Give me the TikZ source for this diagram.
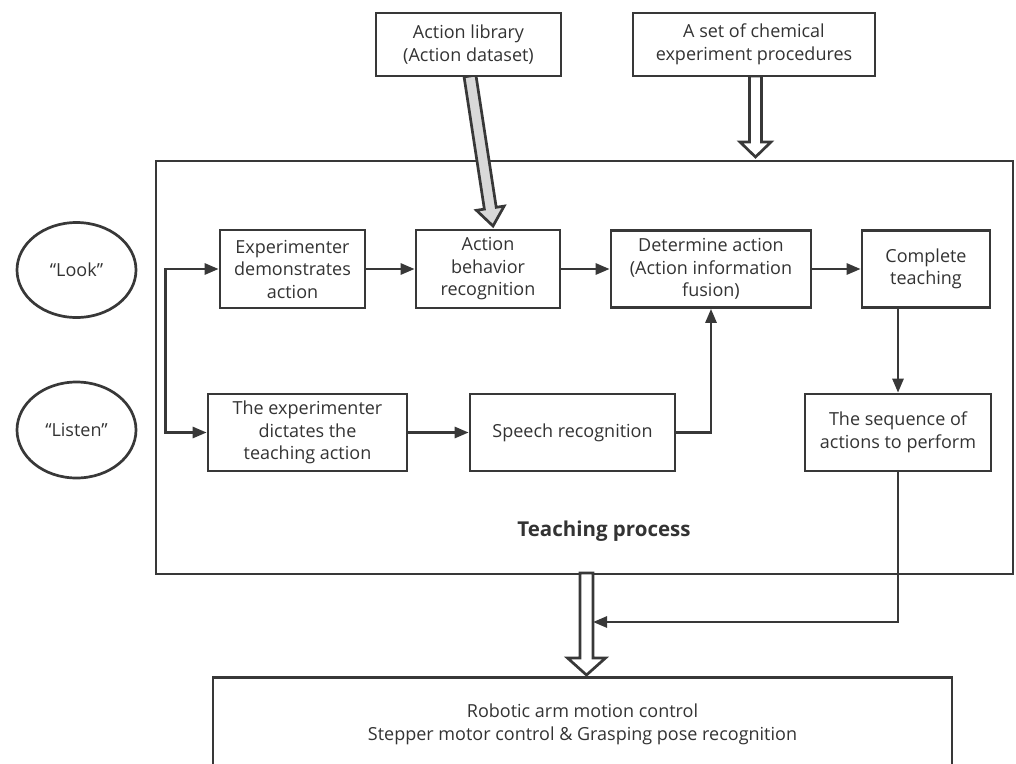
\documentclass[tikz,border=0pt]{standalone}
\usepackage{fontspec}
\setmainfont{Open Sans}
\usetikzlibrary{arrows.meta,calc,shapes.geometric}
\definecolor{lc}{HTML}{383838}
\definecolor{tc}{HTML}{333333}
\definecolor{gf}{HTML}{D9D9D9}
\begin{document}
\begin{tikzpicture}[x=1pt,y=-1pt,
  ftip/.tip={Triangle[length=14pt,width=11pt]},
  box/.style={draw=lc, line width=2.7pt, fill=white, align=center, inner sep=0pt, text=tc, font=\fontsize{18}{22.5}\selectfont},
  ell/.style={draw=lc, line width=2.7pt, ellipse, inner sep=0pt, text=tc, font=\fontsize{18}{22.5}\selectfont, minimum width=119pt},
  arr/.style={draw=lc, line width=2.7pt, -ftip},
  dbl/.style={draw=lc, line width=2.7pt, ftip-ftip},
  hollow/.style={draw=lc, line width=2.7pt, fill=white, line join=miter}]
\useasboundingbox (0,0) rectangle (1016,763);
\clip (0,0) rectangle (1016,763);

% teaching process frame
\node[box, minimum width=857pt, minimum height=413pt] (big) at (584.5,367.5) {};
\node[text=tc, font=\bfseries\fontsize{20.5}{24}\selectfont] (tp) at (604,531) {Teaching process};

% input arrows from top
\draw[hollow, fill=gf] (464.07,76.90) -- (484.36,209.11) -- (476.45,210.32) -- (493,226) -- (504.13,206.10) -- (496.22,207.31) -- (475.93,75.10) -- cycle;
\draw[hollow] (749.5,76) -- (749.5,142) -- (740,142) -- (755.5,157) -- (771,142) -- (761.5,142) -- (761.5,76) -- cycle;

% top boxes
\node[box, minimum width=185pt, minimum height=63pt] (lib) at (468.5,44.5) {Action library\\(Action dataset)};
\node[box, minimum width=242pt, minimum height=63pt] (chem) at (754,44.5) {A set of chemical\\experiment procedures};

% ellipses
\node[ell, minimum height=95pt] (look) at (76.5,270) {“Look”};
\node[ell, minimum height=96pt] (listen) at (76.5,430) {“Listen”};

% process boxes
\node[box, minimum width=145pt, minimum height=78pt] (demo) at (292.5,269) {Experimenter\\demonstrates\\action};
\node[box, minimum width=144pt, minimum height=78pt] (abr) at (488,269) {Action\\behavior\\recognition};
\node[box, minimum width=200pt, minimum height=77pt] (det) at (711,269) {Determine action\\(Action information\\fusion)};
\node[box, minimum width=128pt, minimum height=77pt] (comp) at (926,269) {Complete\\teaching};
\node[box, minimum width=199pt, minimum height=77pt] (dict) at (307.5,432.5) {The experimenter\\dictates the\\teaching action};
\node[box, minimum width=205pt, minimum height=77pt] (speech) at (572.5,432.5) {Speech recognition};
\node[box, minimum width=186pt, minimum height=77pt] (seq) at (898,432.5) {The sequence of\\actions to perform};

% bottom box
\node[box, font=\fontsize{18}{23}\selectfont, minimum width=739pt, minimum height=94pt, anchor=north] (ctrl) at (582.5,676) {Robotic arm motion control\\Stepper motor control \& Grasping pose recognition};

% output hollow arrow
\draw[hollow] (580,573) -- (580,658) -- (567.5,658) -- (586.5,675) -- (605.5,658) -- (593,658) -- (593,573) -- cycle;
\coordinate (hr) at (593,622);

% connectors
\draw[dbl] (demo.west) -- ++(-53,0) |- (dict.west);
\draw[arr] (demo.east) -- (abr.west);
\draw[arr] (abr.east) -- (det.west);
\draw[arr] (det.east) -- (comp.west);
\draw[arr] (dict.east) -- (speech.west);
\draw[arr] (speech.east) -| (det.south);
\draw[arr] (seq.north |- comp.south) -- (seq.north);
\draw[arr] (seq.south) |- (hr);
\end{tikzpicture}
\end{document}
